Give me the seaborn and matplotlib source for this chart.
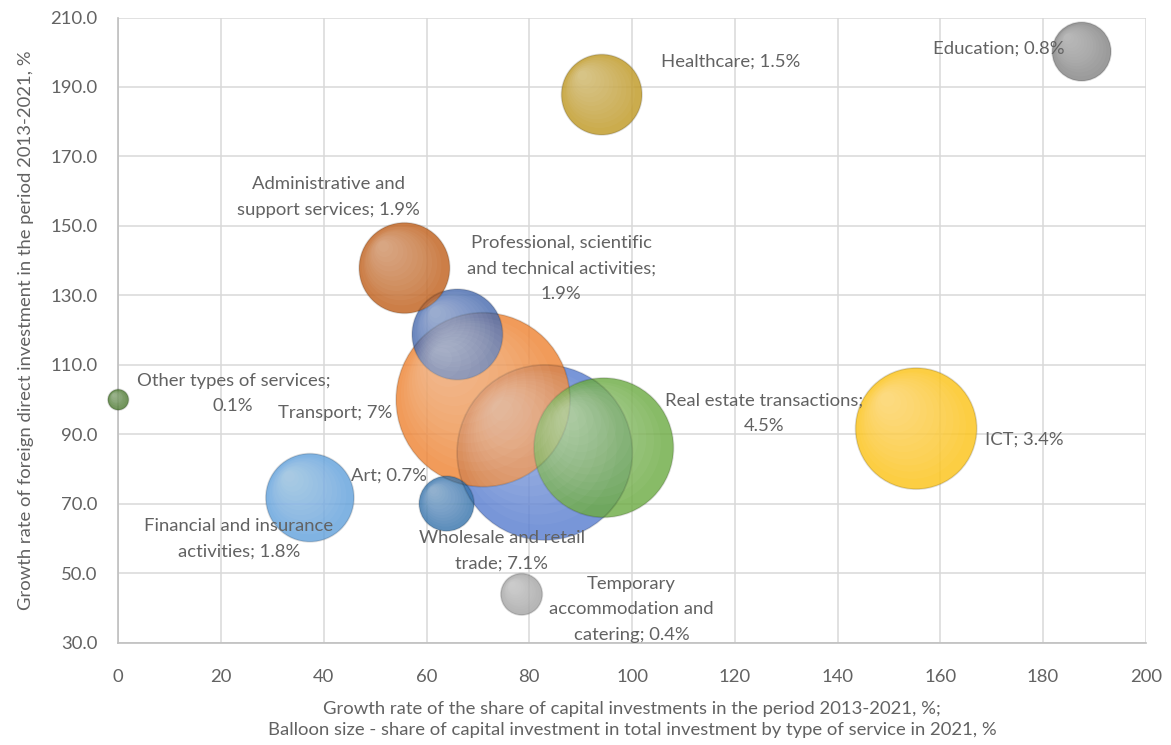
import matplotlib
matplotlib.use("Agg")
import matplotlib.pyplot as plt
from matplotlib.transforms import ScaledTranslation
import seaborn as sns
import pandas as pd
import numpy as np


# chart data
services = ["Wholesale and retail trade", "Transport", "Real estate transactions", "ICT",
            "Professional, scientific and technical activities", "Administrative and support services",
            "Financial and insurance activities", "Healthcare", "Education", "Art",
            "Temporary accommodation and catering", "Other types of services"]
labels = ["Wholesale and retail\ntrade; 7.1%", "Transport; 7%", "Real estate transactions;\n4.5%",
          "ICT; 3.4%", "Professional, scientific\nand technical activities;\n1.9%",
          "Administrative and\nsupport services; 1.9%", "Financial and insurance\nactivities; 1.8%",
          "Healthcare; 1.5%", "Education; 0.8%", "Art; 0.7%",
          "Temporary\naccommodation and\ncatering; 0.4%", "Other types of services;\n0.1%"]
capex_growth = [83, 71, 94.5, 155.3, 66, 55.7, 37.3, 94.1, 187.5, 63.9, 78.5, 0]
fdi_growth = [84.8, 100, 86.2, 91.7, 118.8, 137.9, 71.8, 187.8, 200.2, 70.1, 44, 100]
share_2021 = [7.1, 7.0, 4.5, 3.4, 1.9, 1.9, 1.8, 1.5, 0.8, 0.7, 0.4, 0.1]

colors = ["#5a7fd0", "#ee8536", "#6eac45", "#fcc419", "#4a6db0", "#c1621f",
          "#64a2dc", "#c09a26", "#858585", "#3a76ad", "#a6a6a6", "#4d7a32"]

# label offsets in pixels (dx, dy), relative to bubble centre
label_off = [(-43, -98), (-148, -13), (160, 34), (108, -11), (104, 66), (-76, 71),
             (-71, -41), (129, 33), (-83, 3), (-58, 28), (110, -15), (115, 6)]
line_h = 25.5

df = pd.DataFrame({"service": services, "x": capex_growth, "y": fdi_growth, "share": share_2021})
palette = dict(zip(services, colors))

sns.set_style("white")
plt.rcParams["font.family"] = ["Lato", "DejaVu Sans"]
grey = "#626262"
fs = 13.3

fig = plt.figure(figsize=(11.71, 7.45), dpi=100)
ax = fig.add_axes([0.101, 0.137, 0.8775, 0.8395])

k = 2243  # points^2 per percent of share
sns.scatterplot(data=df, x="x", y="y", hue="service", palette=palette,
                size="share", sizes=(k * 0.1, k * 7.1), size_norm=(0.1, 7.1),
                alpha=0.82, linewidth=0, legend=False,
                clip_on=False, zorder=3, ax=ax)
# faint darker rim
sns.scatterplot(data=df, x="x", y="y", size="share", sizes=(k * 0.1, k * 7.1),
                size_norm=(0.1, 7.1), facecolor="none", edgecolor="#00000022",
                linewidth=1.2, legend=False, clip_on=False, zorder=3, ax=ax)

# light spots shifted to the upper left, so the balloons look round
for i in range(len(services)):
    r = np.sqrt(k * share_2021[i]) / 2
    for f in np.linspace(0.88, 0.12, 12):
        shift = r * (1 - f) * 0.55
        sc = ax.scatter([capex_growth[i]], [fdi_growth[i]], s=(2 * r * f) ** 2,
                        color="white", alpha=0.035, linewidth=0, clip_on=False, zorder=4)
        sc.set_offset_transform(ax.transData + ScaledTranslation(-shift / 72, shift / 72,
                                                                 fig.dpi_scale_trans))

for i, lab in enumerate(labels):
    dx, dy = label_off[i]
    lines = lab.split("\n")
    for j, line in enumerate(lines):
        ly = dy - (j - (len(lines) - 1) / 2) * line_h
        ax.annotate(line, (capex_growth[i], fdi_growth[i]), xytext=(dx, ly),
                    textcoords="offset pixels", ha="center", va="center",
                    fontsize=fs, color=grey, zorder=5)

ax.set_xlim(0, 200)
ax.set_ylim(30, 210)
ax.set_xticks(range(0, 201, 20))
ax.set_yticks(range(30, 211, 20))
ax.set_yticklabels([f"{v:.1f}" for v in range(30, 211, 20)])
ax.tick_params(colors=grey, labelsize=fs, length=0)
ax.tick_params(axis="x", pad=19)
ax.tick_params(axis="y", pad=15)
ax.grid(True, color="#d9d9d9", linewidth=1.1, zorder=0)
ax.set_axisbelow(True)
for side in ["top", "right"]:
    ax.spines[side].set_visible(False)
for side in ["left", "bottom"]:
    ax.spines[side].set_color("#bfbfbf")
    ax.spines[side].set_linewidth(1.2)

ax.set_xlabel("Growth rate of the share of capital investments in the period 2013-2021, %;\n"
              "Balloon size - share of capital investment in total investment by type of service in 2021, %",
              fontsize=fs, color=grey, labelpad=11, linespacing=1.45)
ax.set_ylabel("Growth rate of foreign direct investment in the period 2013-2021, %",
              fontsize=fs, color=grey, labelpad=12)

fig.savefig("out.png", dpi=100)
